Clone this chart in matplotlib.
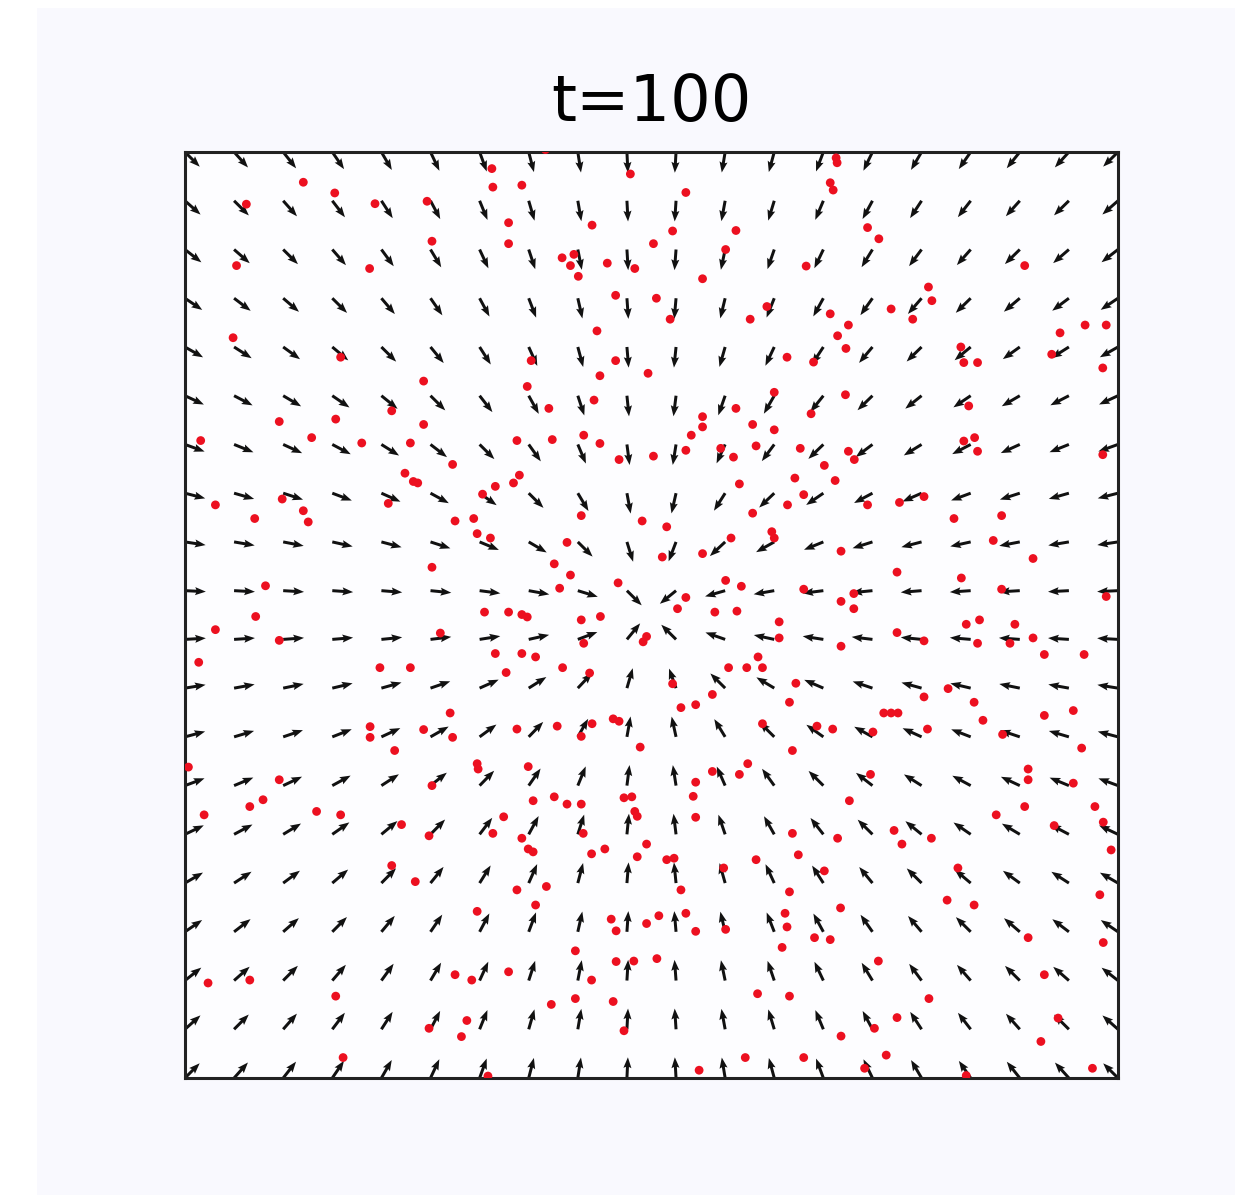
import matplotlib
matplotlib.use("Agg")
import matplotlib.pyplot as plt
from matplotlib.patches import Rectangle
import numpy as np

# simulation time shown in the title
t_step = 100

# arrow lattice: 20 x 20 points on a domain of size 19 x 19
n_grid = 20
domain = 19.0
# point the unit arrows converge to
centre = (9.45, 9.55)

# particle positions (domain units), one block per quadrant
dots_top_left = [
    (6.25, 18.66), (6.27, 18.28), (6.86, 18.32), (7.34, 19.05), (9.07, 18.55), (2.41, 18.38),
    (3.05, 18.16), (1.25, 17.93), (3.87, 17.94), (4.93, 17.99), (6.59, 17.55), (8.29, 17.50),
    (5.03, 17.17), (6.59, 17.12), (1.05, 16.67), (3.76, 16.61), (7.68, 16.83), (7.92, 16.90),
    (7.85, 16.67), (8.01, 16.45), (8.60, 16.72), (9.16, 16.61), (8.77, 16.06), (8.39, 15.33),
    (0.98, 15.19), (3.17, 14.79), (7.05, 14.72), (8.77, 14.72), (8.45, 14.41), (4.86, 14.30),
    (6.97, 14.19), (8.33, 13.91), (7.41, 13.74), (1.92, 13.47), (3.07, 13.52), (4.21, 13.69),
    (4.86, 13.41), (0.32, 13.08), (2.58, 13.14), (3.60, 13.03), (4.59, 13.03), (6.76, 13.08),
    (7.48, 13.10), (8.12, 13.19), (8.45, 13.02), (8.84, 12.69), (5.45, 12.59), (4.48, 12.41),
    (4.65, 12.24), (4.74, 12.21), (6.32, 12.14), (6.69, 12.21), (6.81, 12.37), (6.06, 11.98),
    (0.62, 11.76), (1.98, 11.88), (2.41, 11.64), (2.51, 11.41), (4.14, 11.79), (1.42, 11.48),
    (5.50, 11.43), (5.88, 11.48), (5.95, 11.17), (6.22, 11.08), (8.07, 11.54), (9.31, 11.43),
    (7.78, 10.99), (5.03, 10.48), (7.52, 10.55), (7.85, 10.32), (7.63, 10.05), (8.82, 10.16),
    (1.64, 10.10),
]
dots_top_right = [
    (13.26, 18.88), (13.28, 18.78), (13.14, 18.37), (13.20, 18.22), (10.20, 18.17), (9.93, 17.38),
    (11.22, 17.39), (9.54, 17.12), (11.01, 17.00), (13.90, 17.45), (14.13, 17.22), (12.65, 16.66),
    (17.10, 16.67), (10.54, 16.40), (9.60, 16.00), (9.88, 15.57), (11.51, 15.57), (11.85, 15.83),
    (15.14, 16.23), (15.21, 15.95), (14.38, 15.78), (14.82, 15.57), (13.14, 15.68), (13.51, 15.45),
    (13.29, 15.23), (13.46, 14.97), (18.33, 15.45), (18.76, 15.45), (17.82, 15.29), (9.43, 14.46),
    (12.26, 14.79), (12.80, 14.69), (15.80, 15.00), (15.86, 14.68), (16.14, 14.68), (17.65, 14.85),
    (18.69, 14.57), (12.00, 14.07), (13.45, 14.02), (12.75, 13.63), (11.22, 13.74), (15.96, 13.79),
    (10.54, 13.57), (10.54, 13.36), (10.31, 13.19), (11.56, 13.41), (12.00, 13.30), (9.54, 12.76),
    (10.20, 12.88), (10.91, 12.92), (11.17, 12.74), (11.63, 12.97), (12.53, 12.92), (13.51, 12.86),
    (13.63, 12.69), (15.86, 13.07), (16.08, 13.14), (16.14, 12.86), (18.69, 12.79), (13.02, 12.57),
    (12.42, 12.31), (13.24, 12.26), (11.29, 12.19), (12.60, 11.97), (12.27, 11.76), (11.56, 11.59),
    (13.90, 11.76), (14.55, 11.81), (15.05, 11.93), (15.66, 11.48), (16.63, 11.54), (9.81, 11.31),
    (11.95, 11.21), (12.00, 11.08), (11.12, 11.08), (9.72, 10.69), (10.54, 10.76), (13.36, 10.81),
    (16.46, 11.03), (17.27, 10.66), (14.50, 10.38), (15.81, 10.26), (11.01, 10.21), (11.33, 10.09),
    (12.60, 10.03), (13.62, 9.94), (16.63, 10.03), (10.20, 9.86), (18.76, 9.88), (13.36, 9.78),
]
dots_bottom_left = [
    (1.44, 9.47), (6.10, 9.56), (6.59, 9.56), (6.86, 9.51), (6.97, 9.46), (8.07, 9.40),
    (8.46, 9.47), (0.62, 9.20), (1.92, 8.98), (5.20, 9.13), (8.12, 8.92), (9.33, 8.95),
    (0.28, 8.53), (6.32, 8.71), (6.86, 8.71), (7.14, 8.64), (3.97, 8.42), (4.59, 8.42),
    (6.54, 8.32), (7.69, 8.42), (8.24, 8.31), (5.40, 7.49), (3.77, 7.21), (3.77, 6.99),
    (4.86, 7.15), (5.45, 6.99), (6.76, 7.16), (7.58, 7.22), (8.29, 7.27), (8.07, 7.01),
    (8.72, 7.37), (8.84, 7.32), (9.27, 6.79), (4.27, 6.72), (0.07, 6.38), (5.95, 6.45),
    (5.97, 6.34), (6.99, 6.39), (1.92, 6.12), (5.03, 6.00), (1.59, 5.71), (1.32, 5.57),
    (0.39, 5.40), (2.68, 5.47), (3.17, 5.40), (7.09, 5.69), (7.52, 5.77), (7.78, 5.62),
    (8.07, 5.62), (8.94, 5.75), (9.10, 5.77), (9.16, 5.47), (9.21, 5.37), (6.49, 5.36),
    (4.41, 5.20), (4.97, 4.97), (6.27, 5.02), (6.86, 4.92), (6.99, 4.70), (7.09, 4.64),
    (8.11, 5.02), (8.28, 4.60), (8.55, 4.70), (9.21, 4.54), (4.21, 4.36), (4.69, 4.03),
    (6.76, 3.86), (7.36, 3.93), (7.14, 3.55), (5.95, 3.42), (8.68, 3.26), (8.78, 3.02),
    (7.95, 2.61), (8.78, 2.39), (9.14, 2.40), (0.47, 1.95), (1.32, 2.01), (5.50, 2.12),
    (5.84, 2.01), (6.59, 2.18), (8.28, 2.01), (3.07, 1.68), (7.46, 1.51), (7.95, 1.63),
    (8.72, 1.57), (4.97, 1.02), (5.74, 1.18), (5.63, 0.85), (8.94, 0.97), (3.22, 0.42),
    (6.17, 0.04),
]
dots_bottom_right = [
    (10.03, 9.63), (10.79, 9.56), (11.24, 9.58), (13.62, 9.63), (9.40, 9.06), (12.10, 9.36),
    (12.10, 9.03), (13.36, 8.86), (14.50, 9.14), (15.05, 8.97), (15.91, 9.31), (16.18, 9.40),
    (16.14, 8.92), (16.80, 8.92), (16.90, 9.31), (17.27, 9.03), (17.50, 8.69), (18.31, 8.69),
    (11.67, 8.64), (11.07, 8.42), (11.44, 8.42), (11.76, 8.42), (9.93, 8.09), (12.44, 8.10),
    (10.74, 7.87), (10.10, 7.60), (10.40, 7.66), (12.31, 7.71), (14.23, 7.49), (14.38, 7.49),
    (14.52, 7.49), (15.05, 7.82), (15.54, 7.99), (16.07, 7.71), (16.25, 7.34), (17.50, 7.44),
    (18.09, 7.54), (11.76, 7.27), (12.87, 7.22), (13.19, 7.16), (14.01, 7.10), (15.12, 7.16),
    (16.65, 7.05), (18.26, 6.77), (12.37, 6.72), (11.46, 6.45), (11.29, 6.23), (10.74, 6.29),
    (13.96, 6.23), (17.17, 6.34), (17.17, 6.12), (18.09, 6.05), (10.40, 6.07), (10.35, 5.78),
    (13.53, 5.69), (10.40, 5.35), (17.10, 5.57), (18.53, 5.57), (16.52, 5.40), (17.70, 5.18),
    (18.70, 5.25), (12.37, 5.02), (13.29, 4.92), (14.44, 5.08), (14.60, 4.80), (15.20, 4.92),
    (9.40, 4.80), (18.86, 4.68), (12.49, 4.58), (9.81, 4.48), (9.96, 4.51), (11.63, 4.48),
    (10.97, 4.31), (13.02, 4.25), (15.74, 4.31), (10.10, 3.86), (12.31, 3.82), (15.52, 3.65),
    (16.07, 3.55), (18.63, 3.76), (13.35, 3.49), (9.40, 3.17), (9.65, 3.33), (10.20, 3.38),
    (10.40, 3.01), (11.01, 3.05), (12.22, 3.38), (12.26, 3.10), (12.82, 2.88), (13.14, 2.84),
    (17.17, 2.88), (18.70, 2.78), (12.16, 2.68), (9.61, 2.45), (14.12, 2.40), (17.50, 2.12),
    (11.66, 1.73), (12.31, 1.68), (15.15, 1.63), (14.50, 1.24), (14.04, 1.02), (17.78, 1.23),
    (13.36, 0.86), (17.43, 0.75), (11.41, 0.42), (12.60, 0.42), (14.28, 0.47), (10.47, 0.16),
    (13.84, 0.20), (15.91, 0.05), (18.48, 0.20),
]

dots = np.array(dots_top_left + dots_top_right + dots_bottom_left + dots_bottom_right)

# field: unit vectors pointing at the centre
gx, gy = np.meshgrid(np.linspace(0, domain, n_grid), np.linspace(0, domain, n_grid))
du = centre[0] - gx
dv = centre[1] - gy
norm = np.hypot(du, dv)
u = du / norm
v = dv / norm

fig = plt.figure(figsize=(12.6, 11.99), dpi=100, facecolor="white")
fig.patches.append(Rectangle((0.0294, 0.0033), 0.951, 0.99, transform=fig.transFigure,
                             facecolor="#f9f9fe", edgecolor="none", zorder=-1))

ax = fig.add_axes([0.1468, 0.1009, 0.7405, 0.7723])
ax.set_facecolor("#fdfdff")
ax.quiver(gx, gy, u, v, angles="xy", scale_units="xy", scale=2.35, pivot="tail",
          color="#111111", width=0.0032, headwidth=2.7, headlength=3.6, headaxislength=3.2)
ax.scatter(dots[:, 0], dots[:, 1], s=40, color="#ec1020", edgecolors="none", zorder=3)

ax.set_xlim(0, domain)
ax.set_ylim(0, domain)
ax.set_xticks([])
ax.set_yticks([])
for sp in ax.spines.values():
    sp.set_linewidth(2.2)
    sp.set_color("#222222")

ax.set_title(f"t={t_step}", fontsize=46, pad=22)

fig.savefig("out.png", dpi=100, facecolor=fig.get_facecolor())
